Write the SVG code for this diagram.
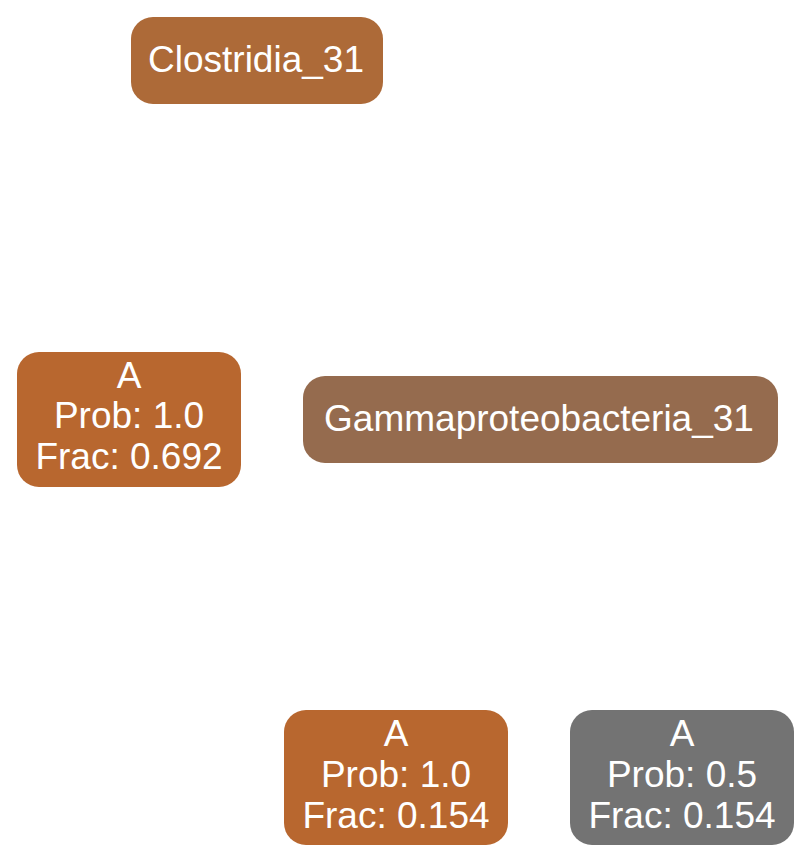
<svg xmlns="http://www.w3.org/2000/svg" width="811" height="863" viewBox="0 0 811 863">
<style>
text{font-family:"Liberation Sans",Arial,Helvetica,sans-serif;font-size:37px;fill:#ffffff;text-anchor:middle}
</style>
<rect width="811" height="863" fill="#ffffff"/>
<g id="connectors"></g>
<g id="clostridia"><rect x="131" y="17" width="252" height="87" rx="22" fill="#ad6a38"/><text x="256" y="72">Clostridia_31</text></g>
<g id="a1"><rect x="17" y="352" width="224" height="135" rx="22" fill="#b8672f"/><text x="129" y="388">A</text><text x="129" y="428">Prob: 1.0</text><text x="129" y="469">Frac: 0.692</text></g>
<g id="gamma"><rect x="303" y="376" width="475" height="87" rx="22" fill="#956b4e"/><text x="539" y="431">Gammaproteobacteria_31</text></g>
<g id="a2"><rect x="284" y="710" width="224" height="135" rx="22" fill="#b8672f"/><text x="396" y="746">A</text><text x="396" y="787">Prob: 1.0</text><text x="396" y="828">Frac: 0.154</text></g>
<g id="a3"><rect x="570" y="710" width="224" height="135" rx="22" fill="#737373"/><text x="682" y="746">A</text><text x="682" y="787">Prob: 0.5</text><text x="682" y="828">Frac: 0.154</text></g>
</svg>
